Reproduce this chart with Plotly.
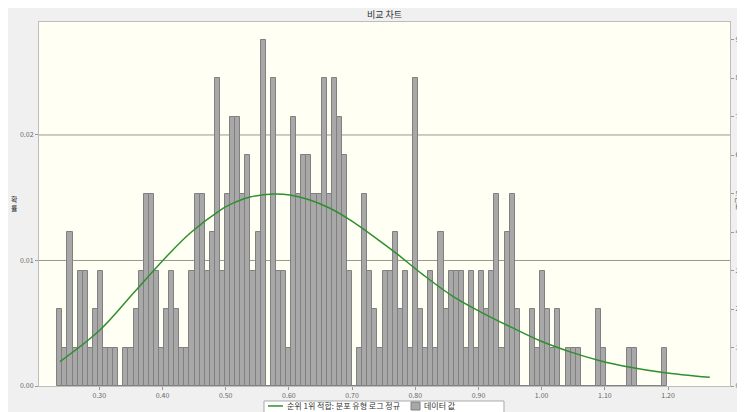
import plotly.graph_objects as go

# ---- data ----
counts = [2, 1, 4, 1, 3, 3, 1, 2, 3, 1, 1, 1, 0, 1, 1, 2, 3, 5, 5, 3, 1, 2, 3, 2, 1, 1, 3, 5, 5, 3, 4, 8,
          3, 5, 7, 7, 5, 6, 3, 4, 9, 0, 8, 3, 3, 1, 7, 5, 6, 6, 5, 5, 8, 5, 8, 7, 6, 3, 0, 1, 5, 3, 2, 1,
          3, 3, 4, 2, 3, 1, 8, 2, 1, 3, 1, 4, 2, 3, 3, 3, 1, 3, 1, 3, 2, 3, 5, 1, 4, 5, 2, 0, 0,
          2, 1, 3, 2, 1, 2, 0, 1, 1, 1, 0, 0, 0, 2, 1, 0, 0, 0, 0, 1, 1, 0, 0, 0, 0, 0, 1]
bin_start = 0.2335
bin_width = 0.008043

curve_x = [0.2378, 0.301, 0.3538, 0.4013, 0.4435, 0.491, 0.5068, 0.5385, 0.5753, 0.6017,
           0.6334, 0.665, 0.6967, 0.7441, 0.7706, 0.8127, 0.8602, 0.9076, 0.9499, 0.9974,
           1.045, 1.0923, 1.14, 1.1924, 1.266]
curve_y = [0.00194, 0.00446, 0.00739, 0.01004, 0.01217, 0.0140, 0.01445, 0.01505, 0.0153, 0.01522,
           0.01482, 0.01416, 0.01323, 0.01155, 0.01055, 0.00885, 0.00712, 0.00579, 0.00473, 0.0036,
           0.00272, 0.00202, 0.0015, 0.00108, 0.00069]

x_ticks = [0.30, 0.40, 0.50, 0.60, 0.70, 0.80, 0.90, 1.00, 1.10, 1.20]
left_ticks = [0.00, 0.01, 0.02]
right_ticks = list(range(0, 10))

title_text = "비교 차트"
curve_name = "순위 1위 적합: 분포 유형 로그 정규"
bar_name = "데이터 값"
left_title = "확<br>률"
right_title = "빈도"

FONT = "Noto Sans CJK KR, sans-serif"
TICKCOL = "#666666"
BAR_FILL = "#a8a8a8"
BAR_LINE = "#808080"
CURVE_COL = "#2f8f2f"

bar_x = [bin_start + (i + 0.5) * bin_width for i in range(len(counts))]

fig = go.Figure()
fig.add_trace(go.Bar(
    x=bar_x, y=counts, width=bin_width, name=bar_name,
    marker=dict(color=BAR_FILL, line=dict(color=BAR_LINE, width=1)),
    yaxis="y", hoverinfo="x+y",
))
fig.add_trace(go.Scatter(
    x=curve_x, y=curve_y, mode="lines", name=curve_name,
    line=dict(color=CURVE_COL, width=1.5, shape="spline", smoothing=1.0),
    yaxis="y2",
))

shapes = []
for v in left_ticks[1:]:
    shapes.append(dict(type="line", xref="paper", x0=0, x1=1, yref="y2", y0=v, y1=v,
                       line=dict(color="#9a9a8a", width=1), layer="below"))

# hand-built legend box below the plot (as in the reference, clipped at the bottom)
LEG_Y = -0.0549
shapes += [
    dict(type="rect", xref="paper", yref="paper", x0=0.3256, x1=0.6729, y0=-0.0797, y1=-0.0412,
         fillcolor="#ffffff", line=dict(color="#a8a8a8", width=1), layer="above"),
    dict(type="line", xref="paper", yref="paper", x0=0.3314, x1=0.3531, y0=LEG_Y, y1=LEG_Y,
         line=dict(color=CURVE_COL, width=1.5), layer="above"),
    dict(type="rect", xref="paper", yref="paper", x0=0.5384, x1=0.5514, y0=-0.0440, y1=-0.0660,
         fillcolor=BAR_FILL, line=dict(color=BAR_LINE, width=1), layer="above"),
]

# the page body adds an 8 px offset, so the figure is 8 px smaller and margins shifted
fig.update_layout(
    width=737, height=404,
    margin=dict(l=31, r=15, t=14, b=26, autoexpand=False),
    paper_bgcolor="#f0f0f0",
    plot_bgcolor="#fffff3",
    font=dict(family=FONT, size=7, color=TICKCOL),
    bargap=0,
    showlegend=False,
    xaxis=dict(range=[0.2046, 1.298], tickvals=x_ticks,
               ticktext=["%.2f" % v for v in x_ticks],
               showgrid=False, zeroline=False, ticks="outside", ticklen=3,
               tickcolor="#999999", showline=True, linecolor="#bdbdbd", mirror=True,
               tickfont=dict(size=7, color=TICKCOL)),
    yaxis=dict(range=[0, 9.455], side="right", tickvals=right_ticks,
               ticktext=[str(v) for v in right_ticks],
               showgrid=False, zeroline=False, ticks="outside", ticklen=3,
               tickcolor="#999999", showline=True, linecolor="#bdbdbd",
               showticklabels=True, automargin=False,
               tickfont=dict(size=7, color=TICKCOL)),
    yaxis2=dict(range=[0, 0.029], side="left", overlaying="y", tickvals=left_ticks,
                ticktext=["%.2f" % v for v in left_ticks],
                showgrid=False, zeroline=False, ticks="outside", ticklen=3,
                tickcolor="#999999", showline=True, linecolor="#bdbdbd",
                automargin=False,
                tickfont=dict(size=7, color=TICKCOL)),
    shapes=shapes,
    annotations=[
        dict(text=title_text, xref="paper", yref="paper", x=0.5, y=1.0, yshift=8,
             showarrow=False, xanchor="center", yanchor="middle",
             font=dict(family=FONT, size=9, color="#333333")),
        dict(text=left_title, xref="paper", yref="paper", x=0, xshift=-25, y=0.5, yshift=1,
             xanchor="center", yanchor="middle", showarrow=False,
             font=dict(family=FONT, size=7, color="#333333")),
        dict(text=right_title, xref="paper", yref="paper", x=1.0, xshift=9, y=0.5, yshift=1,
             xanchor="center", yanchor="middle", showarrow=False, textangle=90,
             font=dict(family=FONT, size=7, color="#333333")),
        dict(text=curve_name, xref="paper", yref="paper", x=0.356, y=LEG_Y,
             xanchor="left", yanchor="middle", showarrow=False,
             font=dict(family=FONT, size=8, color="#333333")),
        dict(text=bar_name, xref="paper", yref="paper", x=0.5543, y=LEG_Y,
             xanchor="left", yanchor="middle", showarrow=False,
             font=dict(family=FONT, size=8, color="#333333")),
    ],
)

fig.write_html("out.html")
